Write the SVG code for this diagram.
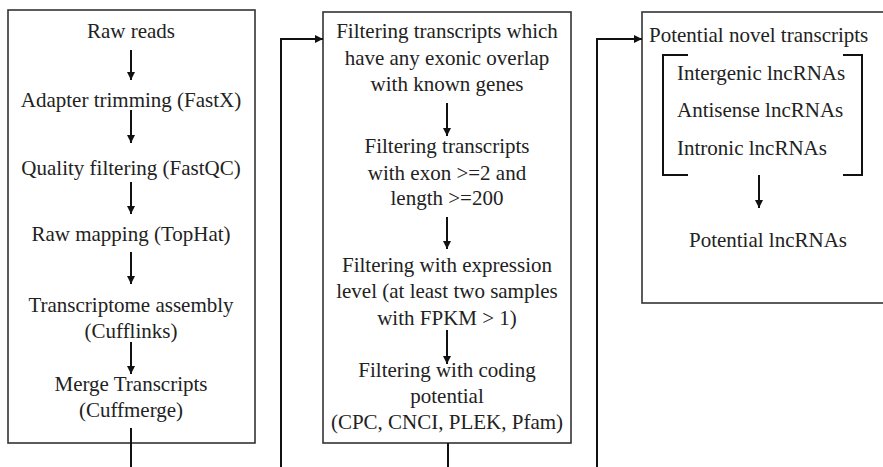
<svg xmlns="http://www.w3.org/2000/svg" width="883" height="467" viewBox="0 0 883 467">
<style>
.box{fill:#fff;stroke:#333;stroke-width:1.6}
.t{font-family:'Liberation Serif','Tinos','Times New Roman','DejaVu Serif',serif;font-size:21px;fill:#222}
.c{text-anchor:middle}
.ln{fill:none;stroke:#111;stroke-width:2}
.br{fill:none;stroke:#111;stroke-width:2}
</style>
<defs>
<marker id="ah" viewBox="0 0 10 10" refX="10" refY="5" markerWidth="10" markerHeight="8" markerUnits="userSpaceOnUse" orient="auto">
<path d="M0,0 L10,5 L0,10 Z" fill="#111"/>
</marker>
</defs>
<rect width="883" height="467" fill="#fff"/>
<g id="box1">
<rect class="box" x="8" y="10" width="247" height="433"/>
<text class="t c" x="131" y="38" font-family="Liberation Serif">Raw reads</text>
<text class="t c" x="131" y="107">Adapter trimming (FastX)</text>
<text class="t c" x="131" y="175">Quality filtering (FastQC)</text>
<text class="t c" x="131" y="241">Raw mapping (TopHat)</text>
<text class="t c" x="131" y="312">Transcriptome assembly</text>
<text class="t c" x="131" y="338">(Cufflinks)</text>
<text class="t c" x="131" y="391">Merge Transcripts</text>
<text class="t c" x="131" y="417">(Cuffmerge)</text>
<line class="ln" x1="131" y1="50" x2="131" y2="80" marker-end="url(#ah)"/>
<line class="ln" x1="131" y1="110" x2="131" y2="143" marker-end="url(#ah)"/>
<line class="ln" x1="131" y1="182" x2="131" y2="214" marker-end="url(#ah)"/>
<line class="ln" x1="131" y1="252" x2="131" y2="284" marker-end="url(#ah)"/>
<line class="ln" x1="131" y1="342" x2="131" y2="374" marker-end="url(#ah)"/>
</g>
<g id="box2">
<rect class="box" x="323" y="12" width="248" height="431"/>
<text class="t c" x="447" y="38">Filtering transcripts which</text>
<text class="t c" x="447" y="65">have any exonic overlap</text>
<text class="t c" x="447" y="91">with known genes</text>
<text class="t c" x="447" y="153">Filtering transcripts</text>
<text class="t c" x="447" y="180">with exon &gt;=2 and</text>
<text class="t c" x="447" y="205">length &gt;=200</text>
<text class="t c" x="447" y="272">Filtering with expression</text>
<text class="t c" x="447" y="298">level (at least two samples</text>
<text class="t c" x="447" y="325">with FPKM &gt; 1)</text>
<text class="t c" x="447" y="377">Filtering with coding</text>
<text class="t c" x="447" y="403">potential</text>
<text class="t c" x="447" y="429">(CPC, CNCI, PLEK, Pfam)</text>
<line class="ln" x1="447" y1="103" x2="447" y2="136" marker-end="url(#ah)"/>
<line class="ln" x1="447" y1="217" x2="447" y2="249" marker-end="url(#ah)"/>
<line class="ln" x1="447" y1="330" x2="447" y2="364" marker-end="url(#ah)"/>
</g>
<g id="box3">
<rect class="box" x="642" y="12" width="245" height="291"/>
<text class="t" x="649" y="42">Potential novel transcripts</text>
<path class="br" d="M688,55 H663 V175 H688"/>
<path class="br" d="M843,55 H862 V175 H843"/>
<text class="t" x="677" y="80">Intergenic lncRNAs</text>
<text class="t" x="677" y="117">Antisense lncRNAs</text>
<text class="t" x="677" y="155">Intronic lncRNAs</text>
<line class="ln" x1="759" y1="175" x2="759" y2="208" marker-end="url(#ah)"/>
<text class="t c" x="768" y="247">Potential lncRNAs</text>
</g>
<g id="connectors">
<polyline class="ln" points="131,428 131,467"/>
<polyline class="ln" points="448,443 448,467"/>
<polyline class="ln" points="281,467 281,39 323,39" marker-end="url(#ah)"/>
<polyline class="ln" points="597,467 597,39 642,39" marker-end="url(#ah)"/>
</g>
</svg>
